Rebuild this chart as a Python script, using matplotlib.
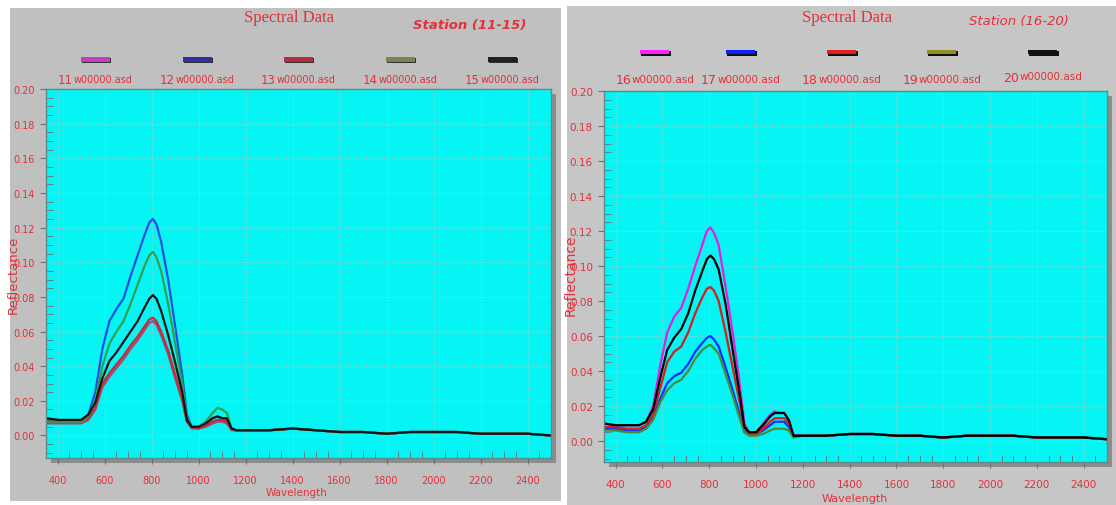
import numpy as np
import matplotlib
matplotlib.use("Agg")
import matplotlib.pyplot as plt
from matplotlib.patches import Rectangle
from matplotlib.ticker import MultipleLocator, FormatStrFormatter

W, H = 1116, 506
RED = '#e3303a'

# wavelength knots (nm), shared by every series
wl = [350, 400, 450, 500, 530, 560, 590, 620, 650, 680, 710, 740, 770, 790, 805,
      820, 840, 870, 900, 930, 950, 970, 1000, 1030, 1060, 1080, 1100, 1120, 1140, 1160,
      1200, 1300, 1400, 1500, 1600, 1700, 1800, 1900, 2000, 2100, 2200, 2300, 2400, 2500]

# station 11-15
r11 = [.007, .007, .007, .007, .009, .015, .028, .034, .039, .044, .050, .055, .061, .065, .066,
       .064, .058, .047, .033, .020, .008, .004, .004, .005, .007, .008, .008, .007, .003, .003,
       .003, .003, .004, .003, .002, .002, .001, .002, .002, .002, .001, .001, .001, .000]
r12 = [.009, .009, .008, .009, .012, .025, .050, .066, .073, .079, .092, .104, .116, .123, .125,
       .122, .112, .090, .063, .035, .012, .005, .005, .007, .010, .011, .010, .009, .004, .003,
       .003, .003, .004, .003, .002, .002, .001, .002, .002, .002, .001, .001, .001, .000]
r13 = [.008, .008, .008, .008, .010, .016, .030, .036, .041, .046, .052, .057, .063, .067, .068,
       .066, .060, .049, .035, .021, .008, .005, .004, .006, .008, .009, .009, .008, .004, .003,
       .003, .003, .004, .003, .002, .002, .001, .002, .002, .002, .001, .001, .001, .000]
r14 = [.008, .008, .008, .008, .011, .020, .040, .053, .060, .066, .076, .087, .098, .104, .106,
       .103, .095, .076, .053, .030, .010, .005, .005, .008, .013, .016, .015, .013, .004, .003,
       .003, .003, .004, .003, .002, .002, .001, .002, .002, .002, .001, .001, .001, .000]
r15 = [.010, .009, .009, .009, .012, .019, .033, .043, .048, .054, .060, .066, .074, .079, .081,
       .079, .072, .058, .042, .025, .009, .005, .005, .007, .010, .011, .010, .010, .004, .003,
       .003, .003, .004, .003, .002, .002, .001, .002, .002, .002, .001, .001, .001, .000]

# station 16-20
r16 = [.010, .009, .009, .009, .011, .020, .043, .062, .071, .076, .087, .100, .112, .120, .122,
       .119, .112, .088, .062, .033, .010, .005, .005, .010, .015, .017, .016, .016, .012, .003,
       .003, .003, .004, .004, .003, .003, .002, .003, .003, .003, .002, .002, .002, .001]
r17 = [.007, .007, .006, .006, .008, .013, .024, .033, .037, .039, .044, .051, .056, .059, .060,
       .058, .054, .042, .029, .015, .005, .004, .004, .006, .009, .011, .011, .011, .008, .003,
       .003, .003, .004, .004, .003, .003, .002, .003, .003, .003, .002, .002, .002, .001]
r18 = [.008, .008, .007, .007, .009, .015, .030, .045, .051, .054, .062, .073, .082, .087, .088,
       .086, .080, .062, .042, .022, .007, .004, .004, .007, .011, .013, .013, .013, .010, .003,
       .003, .003, .004, .004, .003, .003, .002, .003, .003, .003, .002, .002, .002, .001]
r19 = [.006, .006, .005, .005, .007, .012, .022, .029, .033, .035, .040, .047, .052, .054, .055,
       .053, .050, .038, .026, .013, .005, .003, .003, .004, .006, .007, .007, .007, .006, .002,
       .003, .003, .004, .004, .003, .003, .002, .003, .003, .003, .002, .002, .002, .001]
r20 = [.010, .009, .009, .009, .011, .018, .036, .052, .059, .064, .073, .086, .097, .104, .106,
       .104, .098, .078, .052, .027, .008, .005, .005, .009, .014, .016, .016, .016, .012, .003,
       .003, .003, .004, .004, .003, .003, .002, .003, .003, .003, .002, .002, .002, .001]

ids_a = ["11", "12", "13", "14", "15"]
ids_b = ["16", "17", "18", "19", "20"]
suffix = "w00000.asd"
line_a = ['#b0407a', '#2050e0', '#c03030', '#30a050', '#151515']
line_b = ['#e020e0', '#1030ff', '#d02020', '#4a8a3a', '#000000']
swatch_a = ['#c040c0', '#3030a0', '#b03040', '#808050', '#202020']
swatch_b = ['#ff20ff', '#1020ff', '#e02020', '#909020', '#101010']


def box(x0, y0, x1, y1):
    return [x0 / W, 1 - y1 / H, (x1 - x0) / W, (y1 - y0) / H]


def rect(x0, y0, x1, y1, color, z=0):
    b = box(x0, y0, x1, y1)
    fig.patches.append(Rectangle((b[0], b[1]), b[2], b[3], transform=fig.transFigure,
                                 facecolor=color, edgecolor='none', zorder=z))


def label(x, y, num, fs):
    # station number a bit larger than the file suffix, like the original
    fig.text(x / W, 1 - (y + 1) / H, num, fontsize=fs + 1.5, color=RED, ha='right', va='center')
    fig.text((x + 1) / W, 1 - y / H, suffix, fontsize=fs, color=RED, ha='left', va='center')


def panel(pos, series, colors, ylo, fs):
    ax = fig.add_axes(box(*pos))
    ax.set_facecolor('#05f5f5')
    for r, c in zip(series, colors):
        ax.plot(wl, r, color=c, linewidth=1.6)
    ax.set_xlim(350, 2500)
    ax.set_ylim(ylo, 0.20)
    ax.xaxis.set_major_locator(MultipleLocator(200))
    ax.xaxis.set_minor_locator(MultipleLocator(50))
    ax.yaxis.set_major_locator(MultipleLocator(0.02))
    ax.yaxis.set_minor_locator(MultipleLocator(0.005))
    ax.yaxis.set_major_formatter(FormatStrFormatter('%.2f'))
    ax.tick_params(which='major', direction='out', length=4, color='#707070',
                   labelcolor=RED, labelsize=fs, pad=4)
    ax.tick_params(which='minor', direction='in', length=5, color='#707070')
    ax.tick_params(axis='x', which='major', pad=8)
    ax.grid(True, which='major', linestyle=':', color='#9ad0d0', linewidth=0.7)
    for s in ax.spines.values():
        s.set_color('#5f8a8a')
        s.set_linewidth(1.0)
    return ax


fig = plt.figure(figsize=(W / 100, H / 100), dpi=100)
fig.patch.set_facecolor('white')

# grey backgrounds and shadows (behind the axes)
rect(10, 9, 561, 502, '#c0c0c0', -3)
rect(567, 7, 1116, 506, '#c6c6c6', -3)
rect(51, 95, 556, 464, '#8c8c8c', -2)
rect(609, 97, 1112, 468, '#8c8c8c', -2)

ax1 = panel((46, 90, 551, 459), [r11, r12, r13, r14, r15], line_a, -0.013, 7)
ax2 = panel((604, 92, 1107, 463), [r16, r17, r18, r19, r20], line_b, -0.012, 7.5)

# titles
fig.text(289 / W, 1 - 18 / H, "Spectral Data", family='Liberation Serif', fontsize=12,
         color=RED, ha='center', va='center')
fig.text(470 / W, 1 - 26 / H, "Station (11-15)", fontsize=9.5, color=RED, style='italic',
         weight='bold', ha='center', va='center')
fig.text(847 / W, 1 - 18 / H, "Spectral Data", family='Liberation Serif', fontsize=12,
         color=RED, ha='center', va='center')
fig.text(1019 / W, 1 - 22 / H, "Station (16-20)", fontsize=9.5, color=RED, style='italic',
         ha='center', va='center')

# axis labels
fig.text(13 / W, 1 - 275 / H, "Reflectance", rotation=90, fontsize=9.5, color=RED,
         ha='center', va='center')
fig.text(571 / W, 1 - 275 / H, "Reflectance", rotation=90, fontsize=10, color=RED,
         ha='center', va='center')
fig.text(297 / W, 1 - 493 / H, "Wavelength", fontsize=7.5, color=RED, ha='center', va='center')
fig.text(855 / W, 1 - 499 / H, "Wavelength", fontsize=8, color=RED, ha='center', va='center')

# legends
xa = [96, 198, 299, 401, 503]
for x, n, c in zip(xa, ids_a, swatch_a):
    rect(x - 14, 59, x + 15, 64, '#303030', 2)
    rect(x - 15, 58, x + 14, 63, c, 3)
    label(x - 23, 80, n, 7)

xb = [655, 741, 842, 942, 1043]
ly = [80, 80, 80, 80, 77]
for x, n, c, y in zip(xb, ids_b, swatch_b, ly):
    rect(x - 14, 52, x + 16, 57, '#101010', 2)
    rect(x - 15, 51, x + 14, 55, c, 3)
    label(x - 24, y, n, 7.5)

fig.savefig("out.png", dpi=100, facecolor=fig.get_facecolor())
